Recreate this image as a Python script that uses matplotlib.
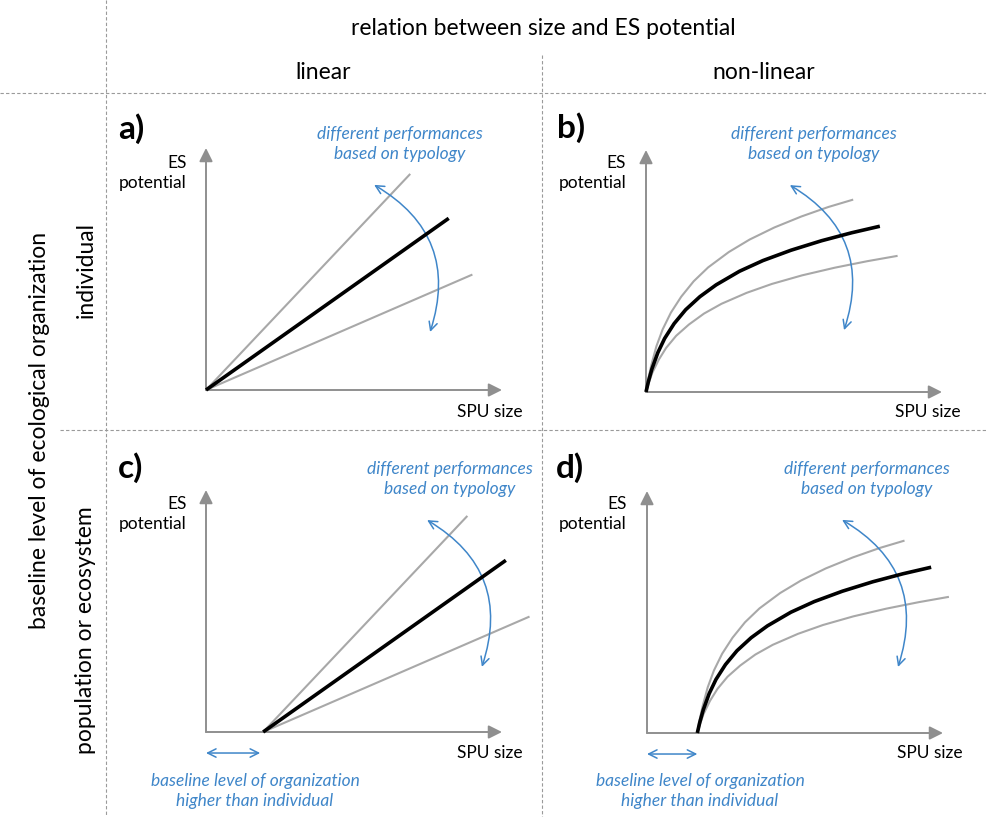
import matplotlib.pyplot as plt
import numpy as np

plt.rcParams['font.family'] = ['Lato', 'DejaVu Sans']

# straight relations (end points, lines start at the baseline size)
lin_slopes_end_x = [6.9, 8.2, 9.0]        # upper gray, black, lower gray
lin_end_y = [7.3, 5.8, 3.9]
lin_c_end_x = [8.83, 10.13, 10.93]
baseline_c = 1.93

# saturating relations, individual level
b_black_x = [0, 0.08, 0.2, 0.4, 0.63, 0.95, 1.34, 1.82, 2.37, 3.16, 3.95, 4.9, 5.93, 6.95, 7.9]
b_black_y = [0, 0.35, 0.78, 1.33, 1.81, 2.31, 2.78, 3.22, 3.62, 4.08, 4.44, 4.79, 5.11, 5.38, 5.6]
b_up_x = [0, 0.07, 0.18, 0.35, 0.56, 0.84, 1.19, 1.61, 2.1, 2.8, 3.5, 4.34, 5.25, 6.16, 7.0]
b_up_y = [0, 0.41, 0.91, 1.54, 2.11, 2.68, 3.22, 3.74, 4.21, 4.73, 5.15, 5.56, 5.93, 6.25, 6.5]
b_lo_x = [0, 0.09, 0.21, 0.43, 0.68, 1.02, 1.45, 1.96, 2.55, 3.4, 4.25, 5.27, 6.38, 7.48, 8.5]
b_lo_y = [0, 0.29, 0.64, 1.09, 1.49, 1.9, 2.28, 2.65, 2.98, 3.35, 3.65, 3.94, 4.2, 4.42, 4.6]

# saturating relations, population / ecosystem level
d_black_x = [1.7, 1.78, 1.9, 2.1, 2.33, 2.65, 3.04, 3.52, 4.07, 4.86, 5.65, 6.6, 7.63, 8.65, 9.6]
d_up_x = [1.7, 1.77, 1.88, 2.05, 2.26, 2.54, 2.89, 3.31, 3.8, 4.5, 5.2, 6.04, 6.95, 7.86, 8.7]
d_lo_x = [1.7, 1.79, 1.91, 2.13, 2.38, 2.72, 3.15, 3.66, 4.25, 5.1, 5.95, 6.97, 8.08, 9.18, 10.2]

W, H = 986, 817
GRAY_AX = '#8f8f8f'
GRAY = '#a8a8a8'
BLUE = '#3f86c9'
DASH = '#9a9a9a'
SC = 29.6  # px per unit
FS_HEAD = 16.5
FS_SMALL = 12.5

fig = plt.figure(figsize=(W / 100, H / 100), dpi=100)
ov = fig.add_axes([0, 0, 1, 1])
ov.set_xlim(0, W)
ov.set_ylim(H, 0)
ov.axis('off')

# grid of dashed separators
dkw = dict(color=DASH, lw=0.8, ls=(0, (3, 2)))
ov.plot([0, W], [93, 93], **dkw)
ov.plot([60, W], [430, 430], **dkw)
ov.plot([106, 106], [0, H], **dkw)
ov.plot([542, 542], [55, H], **dkw)

ov.text(543, 28, 'relation between size and ES potential', ha='center', va='center', fontsize=FS_HEAD)
ov.text(323, 72, 'linear', ha='center', va='center', fontsize=FS_HEAD)
ov.text(764, 72, 'non-linear', ha='center', va='center', fontsize=FS_HEAD)
ov.text(40, 430, 'baseline level of ecological organization', ha='center', va='center',
        rotation=90, fontsize=FS_HEAD)
ov.text(86, 270, 'individual', ha='center', va='center', rotation=90, fontsize=FS_HEAD)
ov.text(86, 630, 'population or ecosystem', ha='center', va='center', rotation=90, fontsize=FS_HEAD)


def panel(ox, oy, label, lab_x, lab_y, es_x, es_y, spu_x, spu_y, txt_x, txt_y, arc):
    ax = fig.add_axes([ox / W, (H - oy) / H, 296 / W, 242 / H])
    ax.set_xlim(0, 10)
    ax.set_ylim(0, 242 / SC)
    ax.axis('off')
    akw = dict(arrowstyle='-|>,head_length=0.8,head_width=0.4', color=GRAY_AX, lw=1.4,
               shrinkA=0, shrinkB=0, mutation_scale=10)
    ax.annotate('', xy=(10, 0), xytext=(0, 0), arrowprops=akw, annotation_clip=False)
    ax.annotate('', xy=(0, 242 / SC), xytext=(0, 0), arrowprops=akw, annotation_clip=False)
    ax.annotate('', xy=arc[1], xytext=arc[0], annotation_clip=False,
                arrowprops=dict(arrowstyle='<->,head_length=0.6,head_width=0.3', color=BLUE,
                                lw=1.1, connectionstyle='arc3,rad=-0.4', shrinkA=0, shrinkB=0,
                                mutation_scale=10))
    ov.text(lab_x, lab_y, label, ha='left', va='center', fontsize=24, fontweight='bold')
    ov.text(es_x, es_y, 'ES\npotential', ha='right', va='center', fontsize=FS_SMALL,
            multialignment='right', linespacing=1.3)
    ov.text(spu_x, spu_y, 'SPU size', ha='right', va='center', fontsize=FS_SMALL)
    ov.text(txt_x, txt_y, 'different performances\nbased on typology', ha='center', va='center',
            fontsize=FS_SMALL, style='italic', color=BLUE, linespacing=1.25)
    return ax


def baseline_note(ax, x0, px):
    ax.annotate('', xy=(x0, -0.71), xytext=(0, -0.71), annotation_clip=False,
                arrowprops=dict(arrowstyle='<->,head_length=0.6,head_width=0.3', color=BLUE,
                                lw=1.1, shrinkA=0, shrinkB=0, mutation_scale=10))
    ov.text(px, 791, 'baseline level of organization\nhigher than individual', ha='center',
            va='center', fontsize=FS_SMALL, style='italic', color=BLUE, linespacing=1.25)


cols = [GRAY, 'black', GRAY]
lws = [1.5, 2.6, 1.5]
zs = [2, 3, 2]

# a) linear, individual
ax = panel(206, 390, 'a)', 118, 129, 187, 173, 523, 412, 400, 144,
           [(5.68, 6.93), (7.57, 1.96)])
for ex, ey, c, lw, z in zip(lin_slopes_end_x, lin_end_y, cols, lws, zs):
    ax.plot([0, ex], [0, ey], color=c, lw=lw, zorder=z, clip_on=False, solid_capstyle='butt')

# b) non-linear, individual
ax = panel(646, 392, 'b)', 557, 128, 626, 173, 961, 412, 814, 144,
           [(4.86, 6.99), (6.69, 2.09)])
for xs, ys, c, lw, z in zip([b_up_x, b_black_x, b_lo_x], [b_up_y, b_black_y, b_lo_y], cols, lws, zs):
    ax.plot(xs, ys, color=c, lw=lw, zorder=z, clip_on=False, solid_capstyle='butt')

# c) linear, population or ecosystem
ax = panel(206, 732, 'c)', 118, 468, 187, 514, 523, 753, 450, 479,
           [(7.47, 7.16), (9.32, 2.2)])
for ex, ey, c, lw, z in zip(lin_c_end_x, lin_end_y, cols, lws, zs):
    ax.plot([baseline_c, ex], [0, ey], color=c, lw=lw, zorder=z, clip_on=False,
            solid_capstyle='butt')
baseline_note(ax, baseline_c - 0.1, 255)

# d) non-linear, population or ecosystem
ax = panel(647, 733, 'd)', 556, 468, 627, 514, 963, 753, 867, 479,
           [(6.59, 7.2), (8.48, 2.23)])
for xs, ys, c, lw, z in zip([d_up_x, d_black_x, d_lo_x], [b_up_y, b_black_y, b_lo_y], cols, lws, zs):
    ax.plot(xs, ys, color=c, lw=lw, zorder=z, clip_on=False, solid_capstyle='butt')
baseline_note(ax, 1.7, 700)

fig.savefig('out.png', dpi=100)
